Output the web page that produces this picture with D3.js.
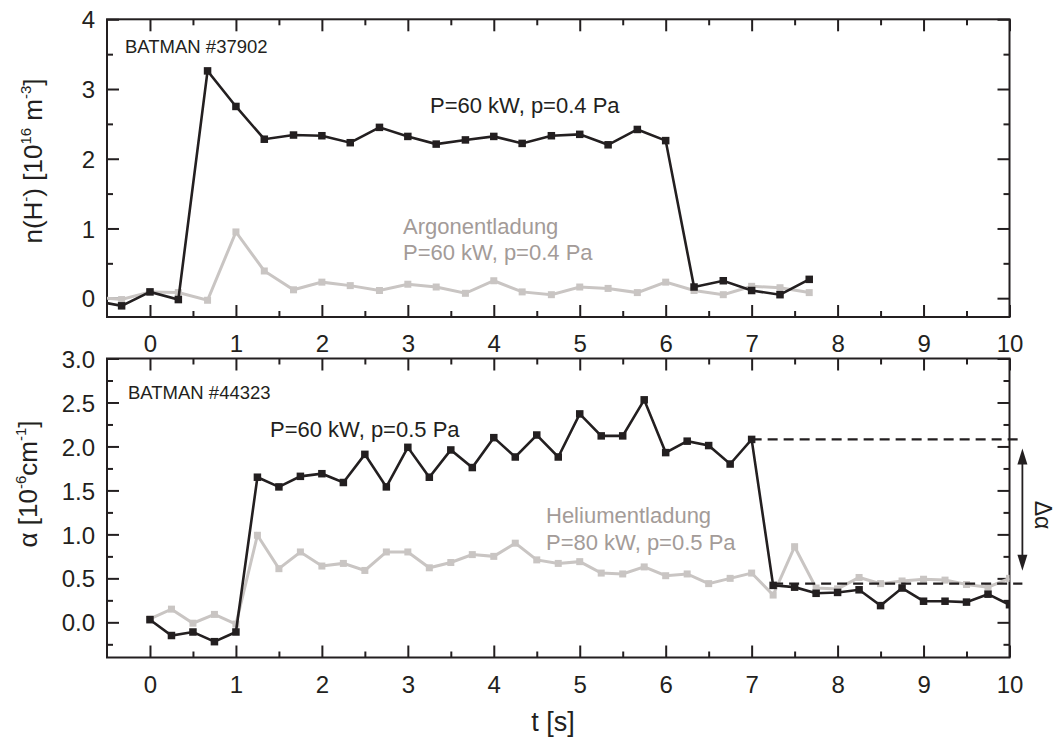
<!DOCTYPE html>
<html>
<head>
<meta charset="utf-8">
<script src="https://cdn.jsdelivr.net/npm/d3@7"></script>
<style>
  body { margin: 0; background: #fff; }
  svg { display: block; font-family: "Liberation Sans", Arial, Helvetica, sans-serif; }
</style>
</head>
<body>
<svg id="chart" width="1056" height="740"></svg>
<script>
// ---- Data -------------------------------------------------------------
// Upper panel: negative hydrogen ion density n(H-) [1e16 m^-3], BATMAN #37902
const tTop = [-0.67, -0.33, 0, 0.33, 0.67, 1.0, 1.33, 1.67, 2.0, 2.33, 2.67, 3.0, 3.33,
              3.67, 4.0, 4.33, 4.67, 5.0, 5.33, 5.67, 6.0, 6.33, 6.67, 7.0, 7.33, 7.67];
const nH_60kW = [-0.03, -0.11, 0.09, -0.02, 3.26, 2.75, 2.28, 2.34, 2.33, 2.23, 2.45, 2.32, 2.21,
                 2.27, 2.32, 2.22, 2.33, 2.35, 2.20, 2.42, 2.26, 0.16, 0.25, 0.11, 0.05, 0.27];
const nH_argon = [0.02, -0.02, 0.09, 0.08, -0.03, 0.95, 0.39, 0.12, 0.23, 0.18, 0.11, 0.20, 0.16,
                  0.07, 0.25, 0.09, 0.05, 0.16, 0.14, 0.08, 0.23, 0.11, 0.05, 0.17, 0.15, 0.08];

// Lower panel: absorption alpha [1e-6 cm^-1], BATMAN #44323
const tBot = [0, 0.25, 0.5, 0.75, 1.0, 1.25, 1.5, 1.75, 2.0, 2.25, 2.5, 2.75, 3.0, 3.25, 3.5, 3.75,
              4.0, 4.25, 4.5, 4.75, 5.0, 5.25, 5.5, 5.75, 6.0, 6.25, 6.5, 6.75, 7.0, 7.25, 7.5,
              7.75, 8.0, 8.25, 8.5, 8.75, 9.0, 9.25, 9.5, 9.75, 10.0];
const alpha_60kW = [0.03, -0.15, -0.11, -0.22, -0.11,
                    1.65, 1.54, 1.66, 1.69, 1.59, 1.91, 1.54, 1.99, 1.65, 1.96, 1.76, 2.10, 1.88, 2.13, 1.88,
                    2.37, 2.12, 2.12, 2.53, 1.93, 2.06, 2.01, 1.80, 2.08,
                    0.42, 0.40, 0.33, 0.34, 0.37, 0.19, 0.39, 0.24, 0.24, 0.23, 0.32, 0.20];
const alpha_helium = [0.04, 0.15, -0.01, 0.09, -0.02,
                      0.99, 0.61, 0.80, 0.64, 0.67, 0.59, 0.80, 0.80, 0.62, 0.68, 0.77, 0.75, 0.90, 0.71, 0.67,
                      0.69, 0.56, 0.55, 0.63, 0.53, 0.55, 0.44, 0.50, 0.56,
                      0.31, 0.86, 0.39, 0.38, 0.51, 0.44, 0.47, 0.49, 0.48, 0.43, 0.40, 0.50];

// Plasma-on / plasma-off levels marking the step Delta-alpha
const alphaOnLevel = 2.08, alphaOnStart = 7.0;
const alphaOffLevel = 0.44, alphaOffStart = 7.25;
const deltaMarkT = 10.15;

// Tick values
const tMajor = [0, 1, 2, 3, 4, 5, 6, 7, 8, 9, 10];
const tMinor = [0.5, 1.5, 2.5, 3.5, 4.5, 5.5, 6.5, 7.5, 8.5, 9.5];
const nMajor = [0, 1, 2, 3, 4];
const nMinor = [0.5, 1.5, 2.5, 3.5];
const aMajor = [0.0, 0.5, 1.0, 1.5, 2.0, 2.5, 3.0];
const aMinor = [-0.25, 0.25, 0.75, 1.25, 1.75, 2.25, 2.75];

// ---- Styling ----------------------------------------------------------
const INK = "#231f20";
const LIGHT = "#c9c5c3";
const GREYTEXT = "#a39b98";

const svg = d3.select("#chart");
svg.append("rect").attr("width", 1056).attr("height", 740).attr("fill", "#fff");

const x = d3.scaleLinear().domain([-0.5, 10]).range([107, 1009.5]);
const yTop = d3.scaleLinear().domain([-0.27, 4]).range([317, 19.3]);
const yBot = d3.scaleLinear().domain([-0.4, 3]).range([657.5, 358.5]);

function drawPanel(id, y, yMaj, yMin, yFmt) {
  const [x0, x1] = x.range();
  const [yb, yt] = y.range();
  const g = svg.append("g");

  // clip region for the data
  svg.append("clipPath").attr("id", id)
    .append("rect").attr("x", x0).attr("y", yt).attr("width", x1 - x0).attr("height", yb - yt);

  const style = sel => {
    sel.select(".domain").remove();
    sel.selectAll(".tick line").attr("stroke", INK).attr("stroke-width", 2);
    sel.selectAll("text").attr("fill", INK).attr("font-size", 24)
      .attr("font-family", "\"Liberation Sans\", Arial, sans-serif");
  };

  // bottom axis (labels)
  g.append("g").attr("transform", `translate(0,${yb})`)
    .call(d3.axisBottom(x).tickValues(tMajor).tickSize(-12).tickFormat(d3.format("d")))
    .call(style)
    .call(s => s.selectAll("text").attr("dy", null).attr("y", 35));
  g.append("g").attr("transform", `translate(0,${yb})`)
    .call(d3.axisBottom(x).tickValues(tMinor).tickSize(-6).tickFormat(""))
    .call(style);
  // top axis
  g.append("g").attr("transform", `translate(0,${yt})`)
    .call(d3.axisTop(x).tickValues(tMajor).tickSize(-12).tickFormat(""))
    .call(style);
  g.append("g").attr("transform", `translate(0,${yt})`)
    .call(d3.axisTop(x).tickValues(tMinor).tickSize(-6).tickFormat(""))
    .call(style);
  // left axis (labels)
  g.append("g").attr("transform", `translate(${x0},0)`)
    .call(d3.axisLeft(y).tickValues(yMaj).tickSize(-12).tickPadding(12).tickFormat(yFmt))
    .call(style)
    .call(s => s.selectAll("text").attr("dy", "0.36em"));
  g.append("g").attr("transform", `translate(${x0},0)`)
    .call(d3.axisLeft(y).tickValues(yMin).tickSize(-6).tickFormat(""))
    .call(style);
  // right axis
  g.append("g").attr("transform", `translate(${x1},0)`)
    .call(d3.axisRight(y).tickValues(yMaj).tickSize(-12).tickFormat(""))
    .call(style);
  g.append("g").attr("transform", `translate(${x1},0)`)
    .call(d3.axisRight(y).tickValues(yMin).tickSize(-6).tickFormat(""))
    .call(style);

  // frame
  g.append("rect").attr("x", x0).attr("y", yt).attr("width", x1 - x0).attr("height", yb - yt)
    .attr("fill", "none").attr("stroke", INK).attr("stroke-width", 2);
  return g;
}

function drawSeries(clipId, y, ts, vs, color, width, size) {
  const pts = ts.map((t, i) => ({ t, v: vs[i] }));
  const g = svg.append("g").attr("clip-path", `url(#${clipId})`);
  g.append("path").datum(pts)
    .attr("d", d3.line().x(d => x(d.t)).y(d => y(d.v)))
    .attr("fill", "none").attr("stroke", color).attr("stroke-width", width)
    .attr("stroke-linejoin", "miter");
  g.selectAll("rect").data(pts).join("rect")
    .attr("x", d => x(d.t) - size / 2).attr("y", d => y(d.v) - size / 2)
    .attr("width", size).attr("height", size).attr("fill", color);
}

function label(xp, yp, txt, size, color) {
  return svg.append("text").attr("x", xp).attr("y", yp)
    .attr("font-size", size).attr("fill", color).text(txt);
}

// ---- Upper panel ------------------------------------------------------
drawPanel("clipTop", yTop, nMajor, nMinor, d3.format("d"));
drawSeries("clipTop", yTop, tTop, nH_argon, LIGHT, 3, 7);
drawSeries("clipTop", yTop, tTop, nH_60kW, INK, 2.6, 7.5);

label(125, 52.5, "BATMAN #37902", 18.5, INK);
label(430, 112.5, "P=60 kW, p=0.4 Pa", 22, INK);
label(403, 234, "Argonentladung", 22, GREYTEXT);
label(403, 260, "P=60 kW, p=0.4 Pa", 22, GREYTEXT);

// ---- Lower panel ------------------------------------------------------
drawPanel("clipBot", yBot, aMajor, aMinor, d3.format(".1f"));
drawSeries("clipBot", yBot, tBot, alpha_helium, LIGHT, 3, 7);
drawSeries("clipBot", yBot, tBot, alpha_60kW, INK, 2.6, 7.5);

label(128, 399, "BATMAN #44323", 18.5, INK);
label(270, 437, "P=60 kW, p=0.5 Pa", 22, INK);
label(546, 522.5, "Heliumentladung", 22, GREYTEXT);
label(546, 550, "P=80 kW, p=0.5 Pa", 22, GREYTEXT);

// Delta-alpha: dashed reference levels and double arrow
svg.append("line")
  .attr("x1", x(alphaOnStart)).attr("x2", x(deltaMarkT))
  .attr("y1", yBot(alphaOnLevel)).attr("y2", yBot(alphaOnLevel))
  .attr("stroke", INK).attr("stroke-width", 2.2).attr("stroke-dasharray", "10,6");
svg.append("line")
  .attr("x1", x(alphaOffStart)).attr("x2", x(deltaMarkT))
  .attr("y1", yBot(alphaOffLevel)).attr("y2", yBot(alphaOffLevel))
  .attr("stroke", INK).attr("stroke-width", 2.2).attr("stroke-dasharray", "10,6");

const ax = x(deltaMarkT);
const aTop = yBot(alphaOnLevel) + 9;
const aBottom = yBot(alphaOffLevel) - 13;
const headL = 16, headW = 5;
svg.append("line").attr("x1", ax).attr("x2", ax)
  .attr("y1", aTop + headL - 2).attr("y2", aBottom - headL + 2)
  .attr("stroke", INK).attr("stroke-width", 1.8);
svg.append("path")
  .attr("d", `M${ax},${aTop} L${ax - headW},${aTop + headL} L${ax + headW},${aTop + headL} Z`)
  .attr("fill", INK);
svg.append("path")
  .attr("d", `M${ax},${aBottom} L${ax - headW},${aBottom - headL} L${ax + headW},${aBottom - headL} Z`)
  .attr("fill", INK);
svg.append("text")
  .attr("transform", `translate(1035,515) rotate(90)`)
  .attr("text-anchor", "middle").attr("font-size", 23).attr("fill", INK)
  .text("\u0394\u03b1");

// ---- Axis titles ------------------------------------------------------
const nTitle = svg.append("text")
  .attr("transform", "translate(42,161) rotate(-90)")
  .attr("text-anchor", "middle").attr("font-size", 26).attr("fill", INK);
nTitle.append("tspan").text("n(H");
nTitle.append("tspan").attr("dy", -11).attr("font-size", 15).text("-");
nTitle.append("tspan").attr("dy", 11).text(") [10");
nTitle.append("tspan").attr("dy", -11).attr("font-size", 15).text("16");
nTitle.append("tspan").attr("dy", 11).text(" m");
nTitle.append("tspan").attr("dy", -11).attr("font-size", 15).text("-3");
nTitle.append("tspan").attr("dy", 11).text("]");

const aTitle = svg.append("text")
  .attr("transform", "translate(37,484) rotate(-90)")
  .attr("text-anchor", "middle").attr("font-size", 26).attr("fill", INK);
aTitle.append("tspan").text("\u03b1 [10");
aTitle.append("tspan").attr("dy", -11).attr("font-size", 15).text("-6");
aTitle.append("tspan").attr("dy", 11).text("cm");
aTitle.append("tspan").attr("dy", -11).attr("font-size", 15).text("-1");
aTitle.append("tspan").attr("dy", 11).text("]");

svg.append("text").attr("x", 553).attr("y", 731)
  .attr("text-anchor", "middle").attr("font-size", 27).attr("fill", INK)
  .text("t [s]");
</script>
</body>
</html>
